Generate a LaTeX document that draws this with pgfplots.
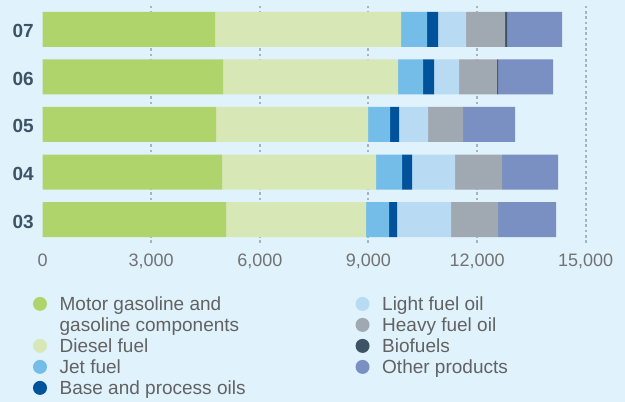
\documentclass[border=0pt]{standalone}
\usepackage{fontspec}
\setmainfont{Liberation Sans}
\usepackage{pgfplots}
\usepackage{pgfplotstable}
\pgfplotsset{compat=1.18}
\usetikzlibrary{backgrounds}
\definecolor{bgc}{HTML}{E0F2FC}
\definecolor{cMotor}{HTML}{B0D46C}
\definecolor{cDiesel}{HTML}{D7E7B6}
\definecolor{cJet}{HTML}{74BDE8}
\definecolor{cBase}{HTML}{00529B}
\definecolor{cLFO}{HTML}{B8DAF2}
\definecolor{cHFO}{HTML}{A0A8B1}
\definecolor{cBio}{HTML}{3D5466}
\definecolor{cOther}{HTML}{7A8FC2}
\definecolor{gridc}{HTML}{A8B3BC}
\definecolor{ylab}{HTML}{3E5466}
\definecolor{tickc}{HTML}{727272}
\definecolor{legc}{HTML}{626262}
\pgfplotsset{dot/.style={legend image code/.code={\fill[#1] (0pt,1.5pt) circle (5.25pt);}}}
\pgfplotstableread{
y motor diesel jet base lfo hfo bio other
0 5066 3868 635 221 1494 1296 0 1602
1 4956 4255 718 276 1189 1297 0 1547
2 4790 4199 608 248 801 967 0 1437
3 4983 4835 690 304 691 1049 28 1519
4 4762 5139 718 304 773 1077 56 1519
}\datatable
\begin{document}
\begin{tikzpicture}
\begin{axis}[name=ax,
  scale only axis, width=434.5pt, height=177.75pt,
  xmin=0, xmax=16000, ymin=-0.49, ymax=4.49,
  xbar stacked, bar width=26.25pt,
  axis line style={draw=none},
  major tick length=0pt, minor tick length=0pt,
  xtick={0,3000,...,15000},
  minor xtick={3000,6000,...,15000},
  scaled x ticks=false,
  xminorgrids=true, xmajorgrids=false,
  minor grid style={gridc, line width=1.5pt, dash pattern=on 2pt off 2pt},
  ytick={0,...,4}, yticklabels={03,04,05,06,07},
  /pgf/number format/1000 sep={,},
  /pgf/number format/assume math mode=true,
  xticklabel style={font=\fontsize{13.5pt}{15pt}\selectfont, text=tickc, anchor=base, yshift=-17.75pt},
  yticklabel style={font=\fontsize{14.25pt}{16pt}\selectfont\bfseries, text=ylab, anchor=east, inner sep=0pt, xshift=-6.45pt, yshift=-1.35pt},
  legend columns=5, transpose legend,
  legend cell align=left,
  legend style={at={(axis description cs:0,0)}, anchor=north west,
    xshift=-7.2pt, yshift=-39.3pt, draw=none, fill=none, inner sep=0pt, outer sep=0pt,
    font=\fontsize{14.25pt}{16pt}\selectfont, text=legc,
    row sep=0pt,
    nodes={inner xsep=2pt, inner ysep=1.5pt, text height=10pt, text depth=2.75pt},
    /tikz/every odd column/.append style={column sep=7.5pt},
    /tikz/every even column/.append style={column sep=80.5pt}},
]
\addplot[fill=cMotor, draw=none, dot=cMotor] table[x=motor, y=y] {\datatable};
\addlegendentry{Motor gasoline and}
\addlegendimage{empty legend}
\addlegendentry{gasoline components}
\addplot[fill=cDiesel, draw=none, dot=cDiesel] table[x=diesel, y=y] {\datatable};
\addlegendentry{Diesel fuel}
\addplot[fill=cJet, draw=none, dot=cJet] table[x=jet, y=y] {\datatable};
\addlegendentry{Jet fuel}
\addplot[fill=cBase, draw=none, dot=cBase] table[x=base, y=y] {\datatable};
\addlegendentry{Base and process oils}
\addplot[fill=cLFO, draw=none, dot=cLFO] table[x=lfo, y=y] {\datatable};
\addlegendentry{Light fuel oil}
\addplot[fill=cHFO, draw=none, dot=cHFO] table[x=hfo, y=y] {\datatable};
\addlegendentry{Heavy fuel oil}
\addplot[fill=cBio, draw=none, dot=cBio] table[x=bio, y=y] {\datatable};
\addlegendentry{Biofuels}
\addplot[fill=cOther, draw=none, dot=cOther] table[x=other, y=y] {\datatable};
\addlegendentry{Other products}
\end{axis}
\begin{scope}[on background layer]
\fill[bgc] ([shift={(-31.95pt,-119.25pt)}]ax.south west) rectangle ([shift={(436.8pt,182.25pt)}]ax.south west);
\end{scope}
\end{tikzpicture}
\end{document}
